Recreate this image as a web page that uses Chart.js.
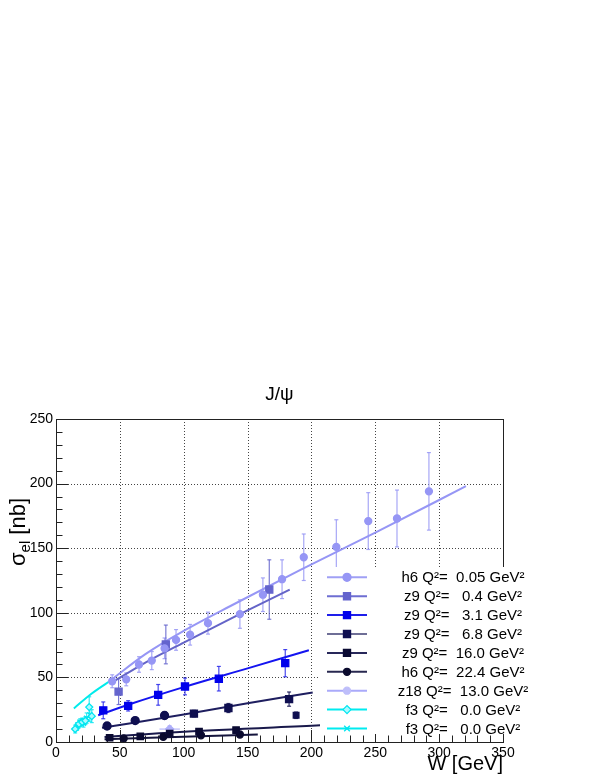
<!DOCTYPE html>
<html>
<head>
<meta charset="utf-8">
<script src="https://cdn.jsdelivr.net/npm/chart.js@4"></script>
<style>
  html, body { margin: 0; padding: 0; background: #fff; }
  #c { display: block; }
</style>
</head>
<body>
<canvas id="c" width="604" height="782"></canvas>
<script>
// values: W in GeV, sigma_el in nb
const xTicks = [0, 50, 100, 150, 200, 250, 300, 350];
const yTicks = [0, 50, 100, 150, 200, 250];

const legendLabels = [
    'h6 Q\u00b2=  0.05 GeV\u00b2',
    'z9 Q\u00b2=   0.4 GeV\u00b2',
    'z9 Q\u00b2=   3.1 GeV\u00b2',
    'z9 Q\u00b2=   6.8 GeV\u00b2',
    'z9 Q\u00b2=  16.0 GeV\u00b2',
    'h6 Q\u00b2=  22.4 GeV\u00b2',
    'z18 Q\u00b2=  13.0 GeV\u00b2',
    'f3 Q\u00b2=   0.0 GeV\u00b2',
    'f3 Q\u00b2=   0.0 GeV\u00b2'
];

// h6 Q2 = 0.05
const h6q005W   = [44, 55, 65, 75, 85, 94, 105, 119, 144, 162, 177, 194, 219.5, 244.5, 267, 292];
const h6q005Sig = [47, 48.5, 60, 63, 72.5, 79, 83, 92, 99, 114, 126, 143, 151, 171, 173, 194];
const h6q005Err = [5, 5, 6, 7, 8, 8, 8, 8.5, 11, 13, 15, 18, 21, 22, 22, 30];
const h6q005FitW   = [43, 70, 100, 140, 191, 250, 321];
const h6q005FitSig = [48, 68, 86, 107, 133, 162, 198];

// z9 Q2 = 0.4
const z9q04W   = [49, 86, 167];
const z9q04Sig = [39, 75.5, 118];
const z9q04Err = [10, 15, 23];
const z9q04FitW   = [42, 70, 100, 140, 183];
const z9q04FitSig = [45, 61.5, 77, 97, 118];

// z9 Q2 = 3.1
const z9q31W   = [37, 56.5, 80, 101, 127.5, 179.5];
const z9q31Sig = [24.5, 28, 36.5, 43, 49, 61];
const z9q31Err = [6.5, 4, 8, 6.5, 9.5, 10.5];
const z9q31FitW   = [33, 60, 100, 150, 198];
const z9q31FitSig = [20.7, 30, 42.5, 57, 71];

// z9 Q2 = 6.8
const z9q68W   = [40, 62, 85, 108, 135, 182.5, 188];
const z9q68Sig = [12.4, 16.6, 20.5, 22, 26.3, 33.2, 20.7];
const z9q68Err = [2.5, 2, 2.5, 2.5, 3.5, 5.5, 2.5];
const z9q68FitW   = [36, 100, 150, 201];
const z9q68FitSig = [11, 21.3, 30, 38.3];

// z9 Q2 = 16.0
const z9q160W   = [42, 66, 89, 112, 141];
const z9q160Sig = [3.3, 4.4, 6.5, 8, 9.2];
const z9q160Err = [1, 1, 1.2, 1.5, 1.5];
const z9q160FitW   = [38, 97, 207];
const z9q160FitSig = [3.9, 7.8, 12.9];

// h6 Q2 = 22.4
const h6q224W   = [53, 84, 113.5, 144];
const h6q224Sig = [2.8, 4, 5.2, 5.8];
const h6q224Err = [0.8, 1, 1, 1.2];
const h6q224FitW   = [38, 158];
const h6q224FitSig = [2.1, 5.8];

// z18 Q2 = 13.0
const z18q130W    = [89];
const z18q130Sig  = [10];
const z18q130Err  = [2.5];
const z18q130ErrW = [8];

// f3 Q2 = 0.0 (two sets)
const f3aW   = [15, 18, 20.5, 23, 26, 28];
const f3aSig = [10, 14, 15.5, 16.5, 27, 20];
const f3aErr = [3, 3, 3, 3, 8, 5];
const f3bW   = [16.5, 19, 21.5, 24, 26.5];
const f3bSig = [12, 15, 14.5, 18.5, 21];
const f3bErr = [3, 3, 3, 4, 5];
const f3FitW   = [14, 28, 43.5];
const f3FitSig = [26, 37.5, 48];

const FONT = "'Liberation Sans', Arial, Helvetica, sans-serif";

function pts(ws, ss) {
    return ws.map((w, i) => ({ x: w, y: ss[i] }));
}

// marker series (first in list is drawn on top)
const markerSets = [
    { w: h6q005W, s: h6q005Sig, e: h6q005Err, color: 'rgb(150,150,245)', err: 'rgba(150,150,245,0.85)', style: 'circle', r: 3.5 },
    { w: z9q04W, s: z9q04Sig, e: z9q04Err, color: 'rgb(100,100,205)', err: 'rgba(100,100,205,0.85)', style: 'rect', r: 5 },
    { w: z9q31W, s: z9q31Sig, e: z9q31Err, color: 'rgb(0,0,235)', err: 'rgba(40,40,235,0.85)', style: 'rect', r: 5 },
    { w: z9q68W, s: z9q68Sig, e: z9q68Err, color: 'rgb(15,15,80)', err: 'rgba(15,15,80,0.85)', style: ['circle', 'circle', 'circle', 'rect', 'rect', 'rect', 'rect'], r: [4, 4, 4, 5, 5, 5, 4] },
    { w: z9q160W, s: z9q160Sig, e: z9q160Err, color: 'rgb(10,10,50)', err: 'rgba(10,10,50,0.85)', style: 'rect', r: 4.5 },
    { w: h6q224W, s: h6q224Sig, e: h6q224Err, color: 'rgb(10,10,45)', err: 'rgba(10,10,45,0.85)', style: 'circle', r: 3.5 },
    { w: z18q130W, s: z18q130Sig, e: z18q130Err, ex: z18q130ErrW, color: 'rgb(175,175,250)', err: 'rgba(175,175,250,0.9)', style: 'rectRot', r: 4 },
    { w: f3aW, s: f3aSig, e: f3aErr, color: 'rgb(0,230,240)', err: 'rgba(0,230,240,0.8)', style: 'rectRot', r: 3.5 },
    { w: f3bW, s: f3bSig, e: f3bErr, color: 'rgb(0,230,240)', err: 'rgba(0,230,240,0.8)', style: 'crossRot', r: 3.5 }
];

const fitSets = [
    { w: h6q005FitW, s: h6q005FitSig, color: 'rgb(150,150,245)' },
    { w: z9q04FitW, s: z9q04FitSig, color: 'rgb(100,100,200)' },
    { w: z9q31FitW, s: z9q31FitSig, color: 'rgb(20,20,240)' },
    { w: z9q68FitW, s: z9q68FitSig, color: 'rgb(30,30,95)' },
    { w: z9q160FitW, s: z9q160FitSig, color: 'rgb(25,25,75)' },
    { w: h6q224FitW, s: h6q224FitSig, color: 'rgb(20,20,60)' },
    { w: f3FitW, s: f3FitSig, color: 'rgb(0,235,235)' }
];

const datasets = [];
markerSets.forEach(m => {
    datasets.push({
        data: pts(m.w, m.s),
        errY: m.e,
        errX: m.ex,
        errColor: m.err,
        pointStyle: m.style,
        pointRadius: m.r,
        backgroundColor: m.style === 'rectRot' && m.color.indexOf('0,230') > 0 ? 'rgb(170,250,255)' : m.color,
        borderColor: m.color,
        borderWidth: 1.3,
        showLine: false
    });
});
fitSets.forEach(f => {
    datasets.push({
        data: pts(f.w, f.s),
        showLine: true,
        pointRadius: 0,
        borderColor: f.color,
        borderWidth: 2,
        tension: 0.4,
        cubicInterpolationMode: 'monotone'
    });
});

// legend rows: marker/line style per entry
const legendStyle = [
    { line: 'rgb(160,160,245)', fill: 'rgb(150,150,245)', style: 'circle', r: 4 },
    { line: 'rgb(110,110,210)', fill: 'rgb(100,100,205)', style: 'rect', r: 5 },
    { line: 'rgb(30,30,235)', fill: 'rgb(0,0,235)', style: 'rect', r: 5 },
    { line: 'rgb(110,110,150)', fill: 'rgb(15,15,80)', style: 'rect', r: 5 },
    { line: 'rgb(40,40,90)', fill: 'rgb(10,10,50)', style: 'rect', r: 5 },
    { line: 'rgb(40,40,80)', fill: 'rgb(10,10,45)', style: 'circle', r: 3.5 },
    { line: 'rgb(170,170,250)', fill: 'rgb(190,190,250)', style: 'circle', r: 3.5 },
    { line: 'rgb(0,235,240)', fill: 'rgb(170,250,255)', style: 'rectRot', r: 4, border: 'rgb(0,230,240)' },
    { line: 'rgb(0,235,240)', fill: 'rgb(0,230,240)', style: 'crossRot', r: 4, border: 'rgb(0,230,240)' }
];

function seg(ctx, x1, y1, x2, y2) {
    ctx.beginPath();
    ctx.moveTo(x1, y1);
    ctx.lineTo(x2, y2);
    ctx.stroke();
}

// dotted grid, frame and inward ticks
const frame = {
    id: 'frame',
    beforeDatasetsDraw(chart) {
        const ctx = chart.ctx, a = chart.chartArea;
        const xs = chart.scales.x, ys = chart.scales.y;
        ctx.save();
        ctx.strokeStyle = '#444';
        ctx.lineWidth = 1;
        ctx.setLineDash([1, 2]);
        xTicks.forEach(v => {
            if (v <= xs.min || v >= xs.max) return;
            const p = Math.round(xs.getPixelForValue(v)) + 0.5;
            seg(ctx, p, a.top, p, a.bottom);
        });
        yTicks.forEach(v => {
            if (v <= ys.min || v >= ys.max) return;
            const p = Math.round(ys.getPixelForValue(v)) + 0.5;
            seg(ctx, a.left, p, a.right, p);
        });
        ctx.setLineDash([]);
        ctx.strokeStyle = '#222';
        ctx.strokeRect(a.left + 0.5, a.top + 0.5, a.right - a.left, a.bottom - a.top);
        // ticks
        for (let v = xs.min; v <= xs.max; v += 10) {
            const p = Math.round(xs.getPixelForValue(v)) + 0.5;
            const len = v % 50 === 0 ? 12 : 6.5;
            seg(ctx, p, a.bottom, p, a.bottom - len);
        }
        for (let v = ys.min; v <= ys.max; v += 10) {
            const p = Math.round(ys.getPixelForValue(v)) + 0.5;
            const len = v % 50 === 0 ? 12 : 6.5;
            seg(ctx, a.left, p, a.left + len, p);
        }
        ctx.restore();
    }
};

// error bars drawn through the scales
const errorBars = {
    id: 'errorBars',
    beforeDatasetsDraw(chart) {
        const ctx = chart.ctx, xs = chart.scales.x, ys = chart.scales.y;
        chart.data.datasets.forEach(ds => {
            if (!ds.errY) return;
            ctx.save();
            ctx.strokeStyle = ds.errColor;
            ctx.lineWidth = 1.2;
            ds.data.forEach((p, i) => {
                const px = xs.getPixelForValue(p.x);
                const py = ys.getPixelForValue(p.y);
                const top = ys.getPixelForValue(p.y + ds.errY[i]);
                const bot = ys.getPixelForValue(Math.max(0, p.y - ds.errY[i]));
                seg(ctx, px, top, px, bot);
                seg(ctx, px - 2, top, px + 2, top);
                seg(ctx, px - 2, bot, px + 2, bot);
                if (ds.errX) {
                    const l = xs.getPixelForValue(p.x - ds.errX[i]);
                    const r = xs.getPixelForValue(p.x + ds.errX[i]);
                    seg(ctx, l, py, r, py);
                }
            });
            ctx.restore();
        });
    }
};

// legend box in ROOT style
const legendBox = {
    id: 'legendBox',
    afterDatasetsDraw(chart) {
        const ctx = chart.ctx;
        ctx.save();
        ctx.fillStyle = '#fff';
        ctx.fillRect(320, 567, 284, 167);
        ctx.font = '15px ' + FONT;
        ctx.textAlign = 'center';
        ctx.textBaseline = 'middle';
        legendLabels.forEach((txt, i) => {
            const st = legendStyle[i];
            const y = 577.3 + i * 18.9;
            ctx.strokeStyle = st.line;
            ctx.lineWidth = 2;
            seg(ctx, 327, y, 367, y);
            ctx.fillStyle = st.fill;
            ctx.strokeStyle = st.border || st.fill;
            ctx.lineWidth = 1.3;
            Chart.helpers.drawPoint(ctx, { pointStyle: st.style, radius: st.r, borderWidth: 1.3, rotation: 0 }, 347, y);
            ctx.fillStyle = '#000';
            ctx.fillText(txt, 463, y + 1);
        });
        ctx.restore();
    }
};

// title and axis titles
const titles = {
    id: 'titles',
    afterDraw(chart) {
        const ctx = chart.ctx, a = chart.chartArea;
        ctx.save();
        ctx.fillStyle = '#000';
        ctx.font = '19px ' + FONT;
        ctx.textAlign = 'center';
        ctx.textBaseline = 'alphabetic';
        ctx.fillText('J/\u03c8', (a.left + a.right) / 2, 400);

        ctx.font = '20px ' + FONT;
        ctx.textAlign = 'right';
        ctx.fillText('W [GeV]', a.right, 770);

        // y title: sigma_el [nb], rotated
        ctx.translate(25, 566);
        ctx.rotate(-Math.PI / 2);
        ctx.textAlign = 'left';
        ctx.font = '22px ' + FONT;
        ctx.fillText('\u03c3', 0, 0);
        let x = ctx.measureText('\u03c3').width;
        ctx.font = '15px ' + FONT;
        ctx.fillText('el', x, 5);
        x += ctx.measureText('el').width;
        ctx.font = '22px ' + FONT;
        ctx.fillText(' [nb]', x, 0);
        ctx.restore();
    }
};

new Chart(document.getElementById('c'), {
    type: 'scatter',
    data: { datasets: datasets },
    options: {
        responsive: false,
        animation: false,
        devicePixelRatio: 1,
        layout: { padding: { left: 0, right: 101, top: 419, bottom: 0 } },
        plugins: {
            legend: { display: false },
            tooltip: { enabled: false },
            title: { display: false }
        },
        scales: {
            x: {
                type: 'linear',
                min: 0,
                max: 350,
                afterFit: s => { s.height = 40; },
                afterBuildTicks: s => { s.ticks = xTicks.map(v => ({ value: v })); },
                grid: { display: false, drawTicks: false },
                border: { display: false },
                ticks: { font: { family: FONT, size: 14 }, color: '#000', padding: 3, maxRotation: 0, autoSkip: false }
            },
            y: {
                type: 'linear',
                min: 0,
                max: 250,
                afterFit: s => { s.width = 56; },
                afterBuildTicks: s => { s.ticks = yTicks.map(v => ({ value: v })); },
                grid: { display: false, drawTicks: false },
                border: { display: false },
                ticks: { font: { family: FONT, size: 14 }, color: '#000', padding: 3, autoSkip: false }
            }
        }
    },
    plugins: [frame, errorBars, legendBox, titles]
});
</script>
</body>
</html>
